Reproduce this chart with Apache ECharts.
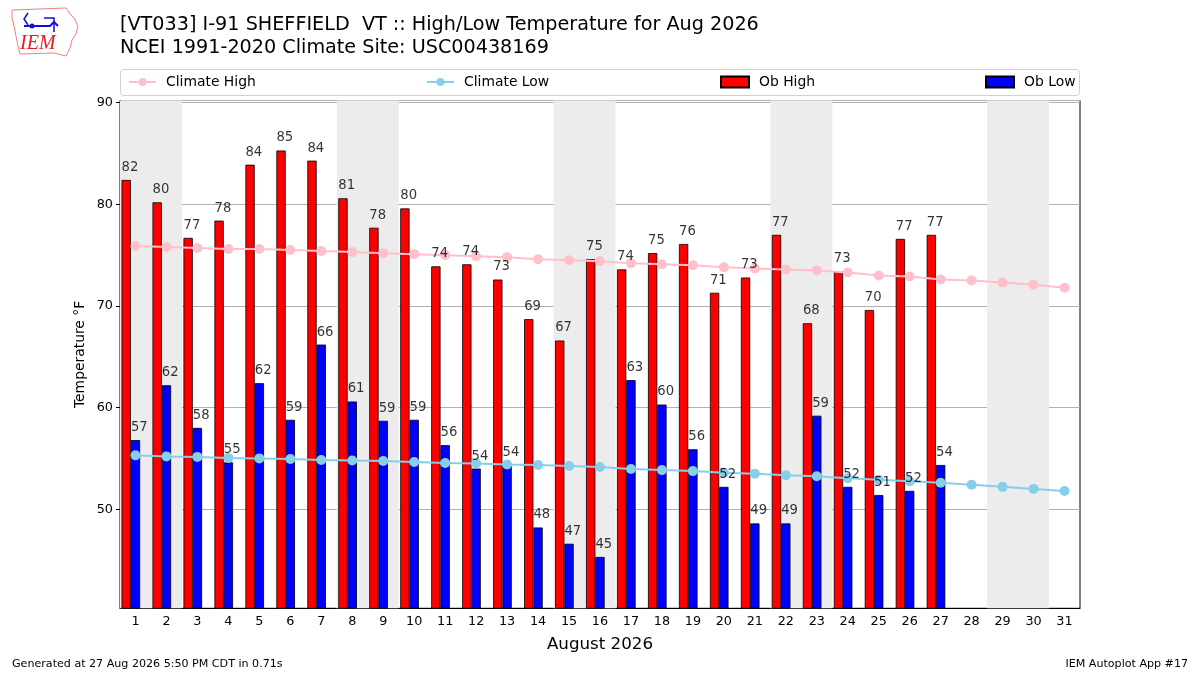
<!DOCTYPE html>
<html>
<head>
<meta charset="utf-8">
<title>VT033 High/Low Temperature Aug 2026</title>
<script src="https://cdn.jsdelivr.net/npm/echarts@6/dist/echarts.min.js"></script>
<style>
    html, body { margin: 0; padding: 0; background: #fff; }
    #main { width: 1200px; height: 675px; }
</style>
</head>
<body>
<div id="main"></div>
<script>
// days of the month (category axis)
var days = ['1', '2', '3', '4', '5', '6', '7', '8', '9', '10', '11', '12', '13', '14', '15', '16',
            '17', '18', '19', '20', '21', '22', '23', '24', '25', '26', '27', '28', '29', '30', '31'];

// observed values (through the 27th)
var obHigh = [82.4, 80.2, 76.7, 78.4, 83.9, 85.3, 84.3, 80.6, 77.7, 79.6, 73.9, 74.1, 72.6, 68.7,
              66.6, 74.6, 73.6, 75.2, 76.1, 71.3, 72.8, 77.0, 68.3, 73.4, 69.6, 76.6, 77.0];
var obLow = [56.8, 62.2, 58.0, 54.6, 62.4, 58.8, 66.2, 60.6, 58.7, 58.8, 56.3, 54.0, 54.3, 48.2,
             46.6, 45.3, 62.7, 60.3, 55.9, 52.2, 48.6, 48.6, 59.2, 52.2, 51.4, 51.8, 54.35];

// NCEI 1991-2020 climatology
var climateHigh = [75.9, 75.8, 75.7, 75.6, 75.6, 75.5, 75.4, 75.3, 75.2, 75.1, 75.0, 74.9, 74.8, 74.6,
                   74.5, 74.4, 74.2, 74.1, 74.0, 73.8, 73.7, 73.6, 73.5, 73.3, 73.0, 72.9, 72.6, 72.5,
                   72.3, 72.1, 71.8];
var climateLow = [55.3, 55.2, 55.15, 55.05, 55.0, 54.95, 54.85, 54.8, 54.75, 54.65, 54.55, 54.5, 54.4,
                  54.35, 54.25, 54.15, 53.95, 53.85, 53.75, 53.6, 53.5, 53.35, 53.25, 53.05, 52.9,
                  52.75, 52.6, 52.4, 52.2, 52.0, 51.8];

// weekend shading (first day, last day)
var weekends = [[1, 2], [8, 9], [15, 16], [22, 23], [29, 30]];

var FONT = 'DejaVu Sans';

function pairs(vals) {
    return vals.map(function (v, i) { return [Number(days[i]), v]; });
}
function labelPoints(vals) {
    return vals.map(function (v, i) { return [days[i], v]; });
}
function legendBox(left, name, rect) {
    return {
        left: left, top: 75, padding: 0,
        data: [rect ? { name: name, icon: 'rect' } : name],
        itemWidth: rect ? 28 : 27,
        itemHeight: rect ? 11 : 10,
        textStyle: { fontFamily: FONT, fontSize: 13.9, color: '#000', padding: [0, 0, 0, 5] }
    };
}

var myChart = echarts.init(document.getElementById('main'));

var option = {
    backgroundColor: '#fff',
    animation: false,
    textStyle: { fontFamily: FONT },
    title: [{
        text: '[VT033] I-91 SHEFFIELD  VT :: High/Low Temperature for Aug 2026\nNCEI 1991-2020 Climate Site: USC00438169',
        left: 120, top: 14, padding: 0,
        textStyle: { fontFamily: FONT, fontSize: 19.2, fontWeight: 'normal', color: '#000', lineHeight: 23 }
    }, {
        text: 'Generated at 27 Aug 2026 5:50 PM CDT in 0.71s',
        left: 12, top: 659, padding: 0,
        textStyle: { fontFamily: FONT, fontSize: 11.1, fontWeight: 'normal', color: '#000' }
    }, {
        text: 'IEM Autoplot App #17',
        right: 12, top: 659, padding: 0,
        textStyle: { fontFamily: FONT, fontSize: 11.1, fontWeight: 'normal', color: '#000' }
    }],
    graphic: [
        // legend frame
        { type: 'rect', shape: { x: 120.5, y: 69.5, width: 959, height: 26, r: 3 },
          style: { fill: '#fff', stroke: '#d0d0d0', lineWidth: 1 }, z: -1 },
        // IEM logo, roughly
        { type: 'polyline', shape: { points: [[12, 10], [66, 8], [70, 14], [74, 18], [78, 26], [76, 34],
            [72, 40], [70, 48], [66, 56], [54, 53], [20, 54], [18, 46], [16, 36], [14, 26], [12, 18], [12, 10]] },
          style: { stroke: '#f08080', lineWidth: 1, fill: 'none' } },
        { type: 'polyline', shape: { points: [[24, 26], [50, 26], [54, 22], [58, 26]] },
          style: { stroke: '#1010d0', lineWidth: 2, fill: 'none' } },
        { type: 'polyline', shape: { points: [[28, 13], [24, 19], [28, 25]] },
          style: { stroke: '#1010d0', lineWidth: 1.5, fill: 'none' } },
        { type: 'polyline', shape: { points: [[44, 18], [54, 18], [54, 32]] },
          style: { stroke: '#1010d0', lineWidth: 1.5, fill: 'none' } },
        { type: 'circle', shape: { cx: 32, cy: 26, r: 2.5 }, style: { fill: '#1010d0' } },
        { type: 'text', left: 20, top: 34,
          style: { text: 'IEM', fill: '#e02020', font: 'italic 20px "Liberation Serif", serif' } }
    ],
    legend: [
        legendBox(128, 'Climate High', false),
        legendBox(426, 'Climate Low', false),
        legendBox(720, 'Ob High', true),
        legendBox(985, 'Ob Low', true)
    ],
    grid: {
        left: 120, right: 120, top: 100.5, bottom: 66.7,
        show: true, borderColor: '#000', borderWidth: 1, backgroundColor: 'transparent'
    },
    xAxis: [{
        type: 'category',
        data: days,
        name: 'August 2026',
        nameLocation: 'middle',
        nameGap: 28,
        nameTextStyle: { fontFamily: FONT, fontSize: 16.7, color: '#000' },
        axisLine: { lineStyle: { color: '#000', width: 1 } },
        axisTick: { alignWithLabel: true, length: 4, lineStyle: { color: '#000' } },
        axisLabel: { fontFamily: FONT, fontSize: 12.8, color: '#000', margin: 7, interval: 0 },
        splitLine: { show: false }
    }, {
        type: 'value',
        min: 0.5,
        max: 31.5,
        show: false
    }],
    yAxis: {
        type: 'value',
        min: 40.25,
        max: 90.22,
        splitNumber: 5,
        name: 'Temperature °F',
        nameLocation: 'middle',
        nameRotate: 90,
        nameGap: 33,
        nameMoveOverlap: false,
        nameTextStyle: { fontFamily: FONT, fontSize: 13.9, color: '#000' },
        axisLine: { show: true, lineStyle: { color: '#000', width: 1 } },
        axisTick: { show: true, length: 4, lineStyle: { color: '#000' } },
        axisLabel: { fontFamily: FONT, fontSize: 12.8, color: '#000', margin: 7,
                     showMinLabel: false, showMaxLabel: false },
        splitLine: { show: true, lineStyle: { color: '#b0b0b0', width: 1 } }
    },
    series: [{
        // weekend bands
        name: 'weekends',
        type: 'line',
        xAxisIndex: 1,
        data: pairs(climateHigh),
        showSymbol: false,
        lineStyle: { opacity: 0 },
        silent: true,
        z: 0,
        markArea: {
            silent: true,
            itemStyle: { color: '#ececec' },
            data: weekends.map(function (w) {
                return [{ xAxis: w[0] - 0.5 }, { xAxis: w[1] + 0.5 }];
            })
        }
    }, {
        name: 'Ob High',
        type: 'bar',
        data: obHigh,
        barWidth: 9.3,
        barGap: '0%',
        itemStyle: { color: '#ff0000', borderColor: '#000', borderWidth: 0.8 },
        z: 2
    }, {
        name: 'Ob Low',
        type: 'bar',
        data: obLow,
        barWidth: 9.3,
        barGap: '0%',
        itemStyle: { color: '#0000ff', borderColor: '#000', borderWidth: 0.8 },
        z: 2
    }, {
        // empty slot so the pair sits left of the day centre like the original
        name: 'spacer',
        type: 'bar',
        data: [],
        barWidth: 9.3,
        barGap: '0%',
        silent: true,
        z: 2
    }, {
        name: 'Climate High',
        type: 'line',
        xAxisIndex: 1,
        data: pairs(climateHigh),
        color: '#ffc0cb',
        symbol: 'circle',
        symbolSize: 10,
        lineStyle: { color: '#ffc0cb', width: 2 },
        itemStyle: { color: '#ffc0cb' },
        z: 3
    }, {
        name: 'Climate Low',
        type: 'line',
        xAxisIndex: 1,
        data: pairs(climateLow),
        color: '#87ceeb',
        symbol: 'circle',
        symbolSize: 10,
        lineStyle: { color: '#87ceeb', width: 2 },
        itemStyle: { color: '#87ceeb' },
        z: 3
    }, {
        // value labels above the high bars
        name: 'high labels',
        type: 'scatter',
        data: labelPoints(obHigh),
        symbolSize: 0,
        silent: true,
        z: 5,
        label: {
            show: true, position: 'top', distance: 6, offset: [-5.5, 0],
            fontFamily: FONT, fontSize: 13.2, color: '#000',
            formatter: function (p) { return Math.round(p.value[1]); }
        }
    }, {
        name: 'low labels',
        type: 'scatter',
        data: labelPoints(obLow),
        symbolSize: 0,
        silent: true,
        z: 5,
        label: {
            show: true, position: 'top', distance: 6, offset: [3.8, 0],
            fontFamily: FONT, fontSize: 13.2, color: '#000',
            formatter: function (p) { return Math.round(p.value[1]); }
        }
    }]
};

myChart.setOption(option);
</script>
</body>
</html>
